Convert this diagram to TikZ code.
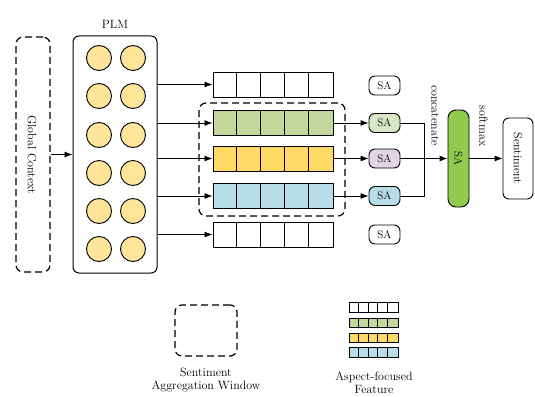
\documentclass[tikz,border=0pt]{standalone}
\usetikzlibrary{arrows.meta}
\definecolor{circ}{HTML}{FFE599}
\definecolor{fgreen}{HTML}{C4D79B}
\definecolor{fyellow}{HTML}{FFD966}
\definecolor{fblue}{HTML}{B7DEE8}
\definecolor{sagreen}{HTML}{D7E8C4}
\definecolor{sapurple}{HTML}{E1D5E7}
\definecolor{sablue}{HTML}{B7DEE8}
\definecolor{bigsa}{HTML}{8FCB4C}
\newcommand{\featrow}[5]{%
  \node[draw, line width=1pt, fill=#5, minimum width=#3pt, minimum height=#4pt, inner sep=0pt] (#1) at #2 {};
  \foreach \k in {1,2,3,4} \draw[line width=1pt] ([xshift=\k*#3/5*1pt]#1.north west) -- ([xshift=\k*#3/5*1pt]#1.south west);}
\begin{document}
\begin{tikzpicture}[x=1pt,y=-1pt,font=\fontsize{12}{14}\selectfont,
  arr/.style={-{Latex[length=8pt,width=6pt]}, line width=0.9pt},
  conn/.style={line width=0.9pt},
  dashbox/.style={draw, dash pattern=on 7pt off 4pt, line width=1.2pt, rounded corners=7pt},
  plmbox/.style={draw, line width=1pt, rounded corners=6pt},
  sabox/.style={draw, line width=0.9pt, rounded corners=6pt, minimum width=31pt, minimum height=19pt, inner sep=0pt, font=\fontsize{11}{13}\selectfont},
  neuron/.style={circle, draw, line width=0.9pt, fill=circ, minimum size=25pt, inner sep=0pt}]
\useasboundingbox (0,0) rectangle (535,396);

% Global context
\node[dashbox, minimum width=34pt, minimum height=235pt] (gc) at (33,154.5) {};
\node[rotate=-90] (gctext) at (32,155) {Global Context};

% PLM
\node[plmbox, minimum width=84pt, minimum height=237pt] (plm) at (115,154.5) {};
\node (plmlabel) at (115,24) {PLM};
\foreach \r/\yy in {1/58,2/96,3/135,4/173,5/211,6/249}{
  \node[neuron] (n\r a) at (99,\yy) {};
  \node[neuron] (n\r b) at (133,\yy) {};
}
\draw[arr] (gc.east) -- (plm.west);

% window
\node[dashbox, minimum width=146pt, minimum height=113pt] (win) at (272,159.5) {};

% feature rows
\featrow{r1}{(273,84.5)}{120}{25}{white}
\featrow{r2}{(273,123)}{120}{25}{fgreen}
\featrow{r3}{(273,158.5)}{120}{25}{fyellow}
\featrow{r4}{(273,196)}{120}{25}{fblue}
\featrow{r5}{(273,234.5)}{120}{25}{white}

\foreach \r in {1,...,5}{
  \draw[arr] (plm.east |- r\r.west) -- (r\r.west);
}

% SA nodes
\node[sabox, fill=white] (sa1) at (384.5,85.5) {SA};
\node[sabox, fill=sagreen] (sa2) at (384.5,123) {SA};
\node[sabox, fill=sapurple] (sa3) at (384.5,158.5) {SA};
\node[sabox, fill=sablue] (sa4) at (384.5,196) {SA};
\node[sabox, fill=white] (sa5) at (384.5,234.5) {SA};
\foreach \r in {2,3,4}{
  \draw[arr] (r\r.east) -- (sa\r.west);
}

% big SA
\node[draw, line width=0.9pt, fill=bigsa, rounded corners=8pt, minimum width=21pt, minimum height=97pt, inner sep=0pt] (bsa) at (458.5,158.5) {};
\node[rotate=-90, font=\fontsize{11}{13}\selectfont] (bsatext) at (458.5,158.5) {SA};
\coordinate (jx) at (424,0);
\draw[conn] (sa2.east) -| (jx |- sa4.east) -- (sa4.east);
\draw[arr] (sa3.east) -- (bsa.west |- sa3.east);
\node[rotate=-90] (concat) at (435,115.5) {concatenate};

% Sentiment
\node[draw, line width=0.9pt, rounded corners=6pt, minimum width=30pt, minimum height=81pt, inner sep=0pt] (sent) at (518,158.5) {};
\node[rotate=-90] (senttext) at (518,158.5) {Sentiment};
\draw[arr] (bsa.east |- sa3.east) -- (sent.west |- sa3.east);
\node[rotate=-90] (softmax) at (483.5,126) {softmax};

% legend
\node[dashbox, minimum width=62pt, minimum height=51pt] (legwin) at (206,330.5) {};
\node[align=center, inner sep=0pt] (legwintext) at (206,380.5) {Sentiment\\[-1pt]Aggregation Window};
\featrow{l1}{(373.5,307.5)}{49}{9.5}{white}
\featrow{l2}{(373.5,323)}{49}{9.5}{fgreen}
\featrow{l3}{(373.5,338)}{49}{9.5}{fyellow}
\featrow{l4}{(373.5,352.5)}{49}{9.5}{fblue}
\node[align=center, inner sep=0pt] (legfeattext) at (374,382.5) {Aspect-focused\\[-1pt]Feature};
\end{tikzpicture}
\end{document}
